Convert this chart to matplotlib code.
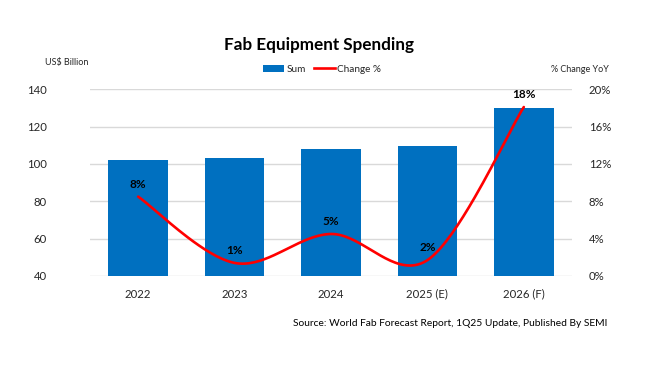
import numpy as np
import matplotlib
matplotlib.use("Agg")
import matplotlib.pyplot as plt
from matplotlib.lines import Line2D
from matplotlib.patches import Patch

categories = ["2022", "2023", "2024", "2025 (E)", "2026 (F)"]
spending = [102.0, 103.2, 107.8, 109.7, 129.8]
change_pct = [8.5, 1.4, 4.5, 1.7, 18.1]
change_labels = ["8%", "1%", "5%", "2%", "18%"]
left_ticks = [40, 60, 80, 100, 120, 140]
right_ticks = [0, 4, 8, 12, 16, 20]

plt.rcParams['font.family'] = ['Lato', 'DejaVu Sans']

BAR = "#0070C0"
RED = "#FF0000"
TXT = "#262626"

fig = plt.figure(figsize=(6.64, 3.73), dpi=100)
ax = fig.add_axes([90/664, 1-276/373, (572-90)/664, (276-89.3)/373])
x = np.arange(len(categories))
ax.bar(x, spending, width=0.62, color=BAR, zorder=2, bottom=0)
ax.set_ylim(40, 140)
ax.set_xlim(-0.5, len(categories)-0.5)
ax.set_yticks(left_ticks)
ax.set_xticks(x)
ax.set_xticklabels(categories)
ax.grid(axis='y', color="#D9D9D9", linewidth=1.0, zorder=0)
ax.set_axisbelow(True)
for s in ax.spines.values():
    s.set_visible(False)
ax.tick_params(axis='both', length=0, labelsize=8.2, labelcolor=TXT)
ax.tick_params(axis='y', pad=31)
ax.tick_params(axis='x', pad=9)

ax2 = ax.twinx()
ax2.set_ylim(0, 20)
ax2.set_yticks(right_ticks)
ax2.set_yticklabels([f"{t}%" for t in right_ticks])
for s in ax2.spines.values():
    s.set_visible(False)
ax2.tick_params(axis='y', length=0, labelsize=8.2, labelcolor=TXT, pad=12)

# Excel-like smoothed line (Bezier with Catmull-Rom control points)
px = x.astype(float)
py = np.array(change_pct, dtype=float)
cx, cy = [], []
n = len(px)
t = np.linspace(0, 1, 40)
for i in range(n-1):
    p0 = np.array([px[max(i-1, 0)], py[max(i-1, 0)]])
    p1 = np.array([px[i], py[i]])
    p2 = np.array([px[i+1], py[i+1]])
    p3 = np.array([px[min(i+2, n-1)], py[min(i+2, n-1)]])
    c1 = p1 + (p2 - p0) / 6.0
    c2 = p2 - (p3 - p1) / 6.0
    for tt in t:
        b = ((1-tt)**3)*p1 + 3*((1-tt)**2)*tt*c1 + 3*(1-tt)*tt**2*c2 + tt**3*p2
        cx.append(b[0]); cy.append(b[1])
ax2.plot(cx, cy, color=RED, linewidth=1.9, solid_capstyle='round', zorder=3)

for xi, yi, lab in zip(px, py, change_labels):
    ax2.annotate(lab, (xi, yi), xytext=(0, 9), textcoords='offset points',
                 ha='center', va='center', fontsize=8.5, fontweight='bold', color="#000000")

fig.text(319/664, 1-45/373, "Fab Equipment Spending", ha='center', va='center',
         fontsize=12.3, fontweight='bold', color="#000000")
fig.text(45/664, 1-63/373, "US$ Billion", ha='left', va='center', fontsize=6.5, color=TXT)
fig.text(609/664, 1-70/373, "% Change YoY", ha='right', va='center', fontsize=6.5, color=TXT)

handles = [Patch(facecolor=BAR, edgecolor='none'), Line2D([0], [0], color=RED, linewidth=1.9)]
leg = fig.legend(handles, ["Sum", "Change %"], loc='center', bbox_to_anchor=(322/664, 1-69/373),
                 ncol=2, frameon=False, fontsize=7.2, handlelength=2.1, handletextpad=0.2,
                 columnspacing=0.8, handleheight=0.7)
for txt in leg.get_texts():
    txt.set_color(TXT)

fig.text(607/664, 1-323/373, "Source: World Fab Forecast Report, 1Q25 Update, Published By SEMI",
         ha='right', va='center', fontsize=7.4, color="#000000")

fig.savefig("out.png", dpi=100)
